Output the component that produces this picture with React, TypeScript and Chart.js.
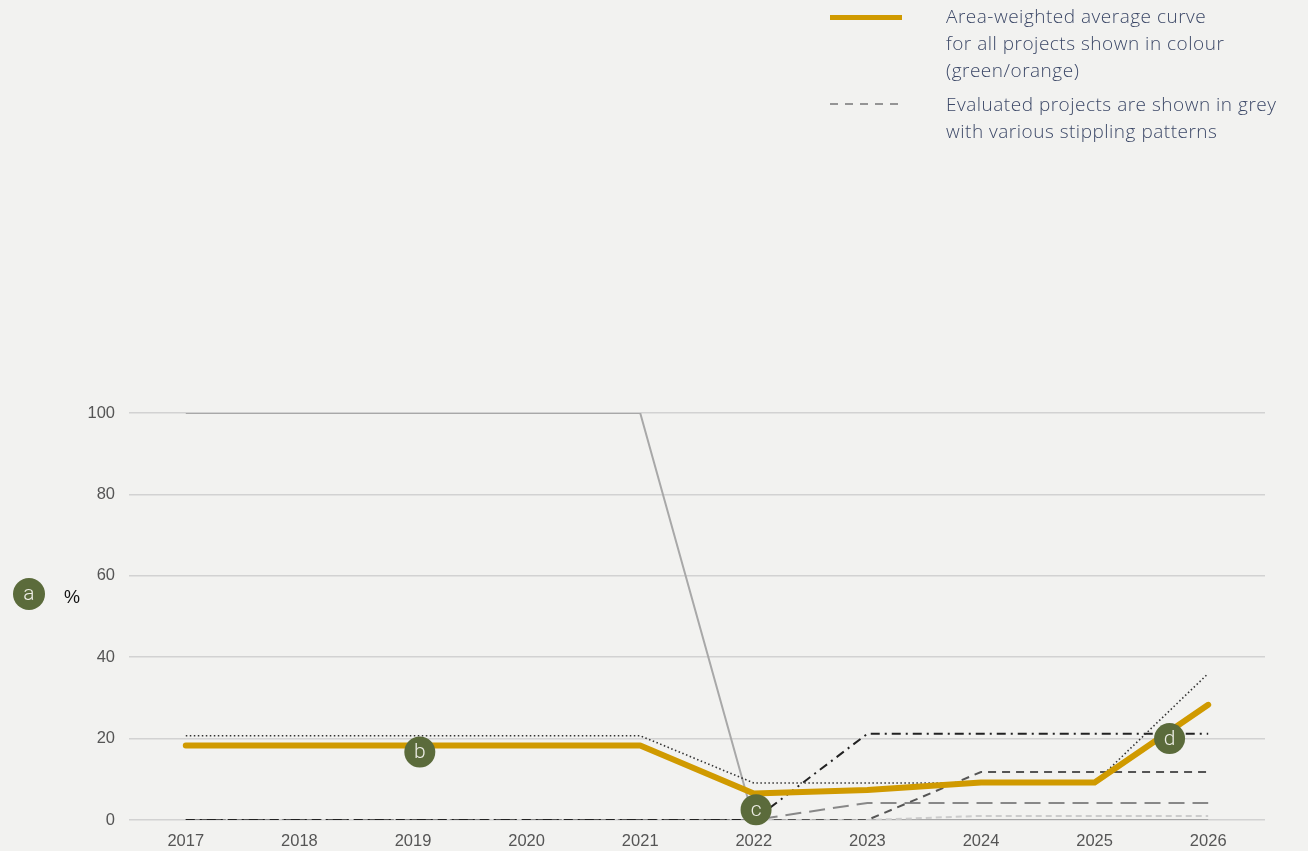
import React, { useEffect, useRef } from "react";
import { Chart, registerables } from "chart.js";

Chart.register(...registerables);

const YEARS = ["2017", "2018", "2019", "2020", "2021", "2022", "2023", "2024", "2025", "2026"];
const Y_TICKS = [0, 20, 40, 60, 80, 100];

const AVERAGE = [18.3, 18.3, 18.3, 18.3, 18.3, 6.5, 7.4, 9.2, 9.2, 28.3];
const DOTTED = [20.7, 20.7, 20.7, 20.7, 20.7, 9.1, 9.1, 9.1, 9.1, 36];
const SOLID_GREY = [100, 100, 100, 100, 100, 0, 0, 0, 0, 0];
const DASH_DOT = [0, 0, 0, 0, 0, 0, 21.2, 21.2, 21.2, 21.2];
const DASHED = [0, 0, 0, 0, 0, 0, 0, 11.8, 11.8, 11.8];
const LONG_DASHED = [0, 0, 0, 0, 0, 0, 4.2, 4.2, 4.2, 4.2];
const LIGHT_DASHED = [0, 0, 0, 0, 0, 0, 0, 1, 1, 1];

const MARKER_LABELS = ["b", "c", "d"];
const MARKER_X = [2.06, 5.02, 8.66];
const MARKER_Y = [16.7, 2.5, 20];

const LEGEND_LINE_1 = ["Area-weighted average curve", "for all projects shown in colour", "(green/orange)"];
const LEGEND_LINE_2 = ["Evaluated projects are shown in grey", "with various stippling patterns"];

const GOLD = "#d09a00";
const MARKER_GREEN = "#5b6b3b";
const BG = "#f2f2f0";

const markerPlugin = {
  id: "letterMarkers",
  afterDatasetsDraw(chart: any) {
    const ctx = chart.ctx;
    const xs = chart.scales.x;
    const ys = chart.scales.y;
    ctx.save();
    MARKER_LABELS.forEach((lab, i) => {
      const px = xs.getPixelForValue(MARKER_X[i]);
      const py = ys.getPixelForValue(MARKER_Y[i]);
      ctx.beginPath();
      ctx.arc(px, py, 15.5, 0, Math.PI * 2);
      ctx.fillStyle = MARKER_GREEN;
      ctx.fill();
      ctx.fillStyle = "#eeeee6";
      ctx.font = "300 21px Roboto, 'Open Sans', sans-serif";
      ctx.textAlign = "center";
      ctx.textBaseline = "middle";
      ctx.fillText(lab, px, py + 1);
    });
    ctx.restore();
  },
};

export default function App() {
  const ref = useRef<HTMLCanvasElement | null>(null);

  useEffect(() => {
    if (!ref.current) return;
    const common = { pointRadius: 0, pointHoverRadius: 0, tension: 0, fill: false };
    const chart = new Chart(ref.current, {
      type: "line",
      data: {
        labels: YEARS,
        datasets: [
          { ...common, label: "Average", data: AVERAGE, borderColor: GOLD, borderWidth: 6, borderCapStyle: "round", borderJoinStyle: "round" },
          { ...common, label: "Dotted", data: DOTTED, borderColor: "#333333", borderWidth: 1.6, borderDash: [1.5, 2.5] },
          { ...common, label: "Dash-dot", data: DASH_DOT, borderColor: "#222222", borderWidth: 2, borderDash: [9, 5, 2, 5] },
          { ...common, label: "Dashed", data: DASHED, borderColor: "#555555", borderWidth: 2, borderDash: [8, 6] },
          { ...common, label: "Long dashed", data: LONG_DASHED, borderColor: "#888888", borderWidth: 2, borderDash: [16, 8] },
          { ...common, label: "Light dashed", data: LIGHT_DASHED, borderColor: "#cccccc", borderWidth: 2, borderDash: [6, 4] },
          { ...common, label: "Solid grey", data: SOLID_GREY, borderColor: "#a8a8a8", borderWidth: 2 },
        ],
      } as any,
      options: {
        animation: false,
        responsive: false,
        maintainAspectRatio: false,
        layout: { padding: { top: 413, right: 43, left: 0, bottom: 0 } },
        plugins: { legend: { display: false }, tooltip: { enabled: false } },
        scales: {
          x: {
            type: "category",
            offset: true,
            grid: { display: false, drawTicks: false },
            border: { display: false },
            ticks: { color: "#555555", font: { family: "'Liberation Sans', Arial, sans-serif", size: 16.5 }, padding: 12, maxRotation: 0 },
            afterFit: (s: any) => { s.height = 31; },
          },
          y: {
            min: 0,
            max: 100,
            afterBuildTicks: (s: any) => { s.ticks = Y_TICKS.map((v) => ({ value: v })); },
            grid: { color: "#d2d2d2", lineWidth: 1.5, drawTicks: false },
            border: { display: false },
            ticks: { color: "#555555", font: { family: "'Liberation Sans', Arial, sans-serif", size: 16.5 }, padding: 14 },
            afterFit: (s: any) => { s.width = 129; },
          },
        },
      } as any,
      plugins: [markerPlugin],
    });
    return () => chart.destroy();
  }, []);

  const legendText: React.CSSProperties = {
    position: "absolute",
    left: 946,
    fontFamily: "'Open Sans', Roboto, sans-serif",
    fontWeight: 300,
    fontSize: 19,
    letterSpacing: "0.5px",
    lineHeight: "27px",
    color: "#3d4968",
    whiteSpace: "nowrap",
  };

  return (
    <div style={{ position: "fixed", left: 0, top: 0, width: 1308, height: 851, background: BG, overflow: "hidden" }}>
      <canvas ref={ref} width={1308} height={851} style={{ position: "absolute", left: 0, top: 0, width: 1308, height: 851 }} />
      <div style={{ position: "absolute", left: 830, top: 15, width: 72, height: 5, background: GOLD }} />
      <div style={{ ...legendText, top: 3 }}>
        {LEGEND_LINE_1.map((t) => (<div key={t}>{t}</div>))}
      </div>
      <svg style={{ position: "absolute", left: 828, top: 100 }} width={76} height={8}>
        <line x1={2} y1={4} x2={74} y2={4} stroke="#777777" strokeWidth={1.3} strokeDasharray="8 7" />
      </svg>
      <div style={{ ...legendText, top: 91 }}>
        {LEGEND_LINE_2.map((t) => (<div key={t}>{t}</div>))}
      </div>
      <div style={{ position: "absolute", left: 13, top: 578, width: 32, height: 32, borderRadius: 16, background: MARKER_GREEN, color: "#eeeee6", fontFamily: "Roboto, sans-serif", fontWeight: 300, fontSize: 21, lineHeight: "31px", textAlign: "center" }}>a</div>
      <div style={{ position: "absolute", left: 64, top: 586, fontFamily: "'Liberation Sans', Arial, sans-serif", fontSize: 18, color: "#111111", lineHeight: "22px" }}>%</div>
    </div>
  );
}
